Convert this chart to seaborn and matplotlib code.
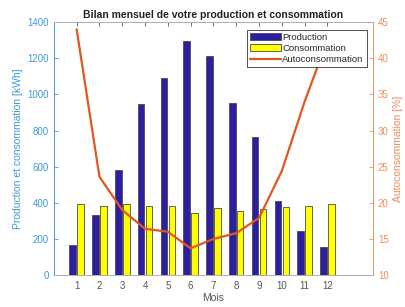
import pandas as pd
import numpy as np
import matplotlib.pyplot as plt
import seaborn as sns

mois = [1, 2, 3, 4, 5, 6, 7, 8, 9, 10, 11, 12]
production = [164, 333, 582, 945, 1090, 1295, 1210, 952, 765, 409, 245, 158]
consommation = [396, 382, 391, 382, 382, 345, 373, 355, 367, 376, 382, 391]
autoconsommation = [44.0, 23.6, 19.0, 16.4, 16.0, 13.7, 15.0, 15.8, 17.9, 24.4, 34.0, 42.5]

BLEU = '#3d9ad6'
ORANGE = '#f08c5a'

sns.set_style("white")
plt.rcParams['font.family'] = ['Liberation Sans', 'DejaVu Sans']

df = pd.DataFrame({
    'Mois': mois * 2,
    'kWh': production + consommation,
    'serie': ['Production'] * 12 + ['Consommation'] * 12,
})

fig = plt.figure(figsize=(4.05, 3.07), dpi=100)
ax = fig.add_axes([0.133, 0.104, 0.788, 0.824])

sns.barplot(data=df, x='Mois', y='kWh', hue='serie', native_scale=True,
            palette={'Production': '#2e1ea0', 'Consommation': '#ffff00'},
            saturation=1, width=0.7, gap=0.18, edgecolor='#4a4a4a',
            linewidth=0.6, ax=ax)

ax2 = ax.twinx()
sns.lineplot(x=mois, y=autoconsommation, color='#e2561f', linewidth=1.6,
             label='Autoconsommation', ax=ax2)

ax.set_xlim(0, 14)
ax.set_ylim(0, 1400)
ax2.set_ylim(10, 45)
ax.set_xticks(mois)
ax.set_yticks(range(0, 1401, 200))
ax2.set_yticks(range(10, 46, 5))

ax.tick_params(axis='x', direction='in', length=3, top=True, labelsize=7,
               colors='#555555', width=0.6, pad=4)
ax.tick_params(axis='y', direction='in', length=3, labelsize=7,
               colors=BLEU, width=0.6)
ax2.tick_params(axis='y', direction='in', length=3, labelsize=7,
                colors=ORANGE, width=0.6)

for a in (ax, ax2):
    for s in a.spines.values():
        s.set_linewidth(0.6)
        s.set_color('#b0b0b0')
ax2.spines['left'].set_color(BLEU)
ax2.spines['right'].set_color(ORANGE)

ax.set_xlabel('Mois', fontsize=7.5, color='#555555', labelpad=2)
ax.set_ylabel('Production et consommation [kWh]', fontsize=7.5, color=BLEU, labelpad=3)
ax2.set_ylabel('Autoconsommation [%]', fontsize=7.5, color=ORANGE, labelpad=3)
ax.set_title('Bilan mensuel de votre production et consommation',
             fontsize=7.5, fontweight='bold', color='#222222', pad=3)

h1, l1 = ax.get_legend_handles_labels()
h2, l2 = ax2.get_legend_handles_labels()
ax.get_legend().remove()
ax2.get_legend().remove()
leg = ax2.legend(h1 + h2, l1 + l2, loc='upper right', bbox_to_anchor=(0.98, 0.97),
                 fontsize=6.8, frameon=True, fancybox=False, framealpha=1,
                 edgecolor='#333333', borderpad=0.3, labelspacing=0.25,
                 handlelength=3.2, handletextpad=0.2, borderaxespad=0)
leg.get_frame().set_linewidth(0.6)

fig.savefig('out.png', dpi=100)
